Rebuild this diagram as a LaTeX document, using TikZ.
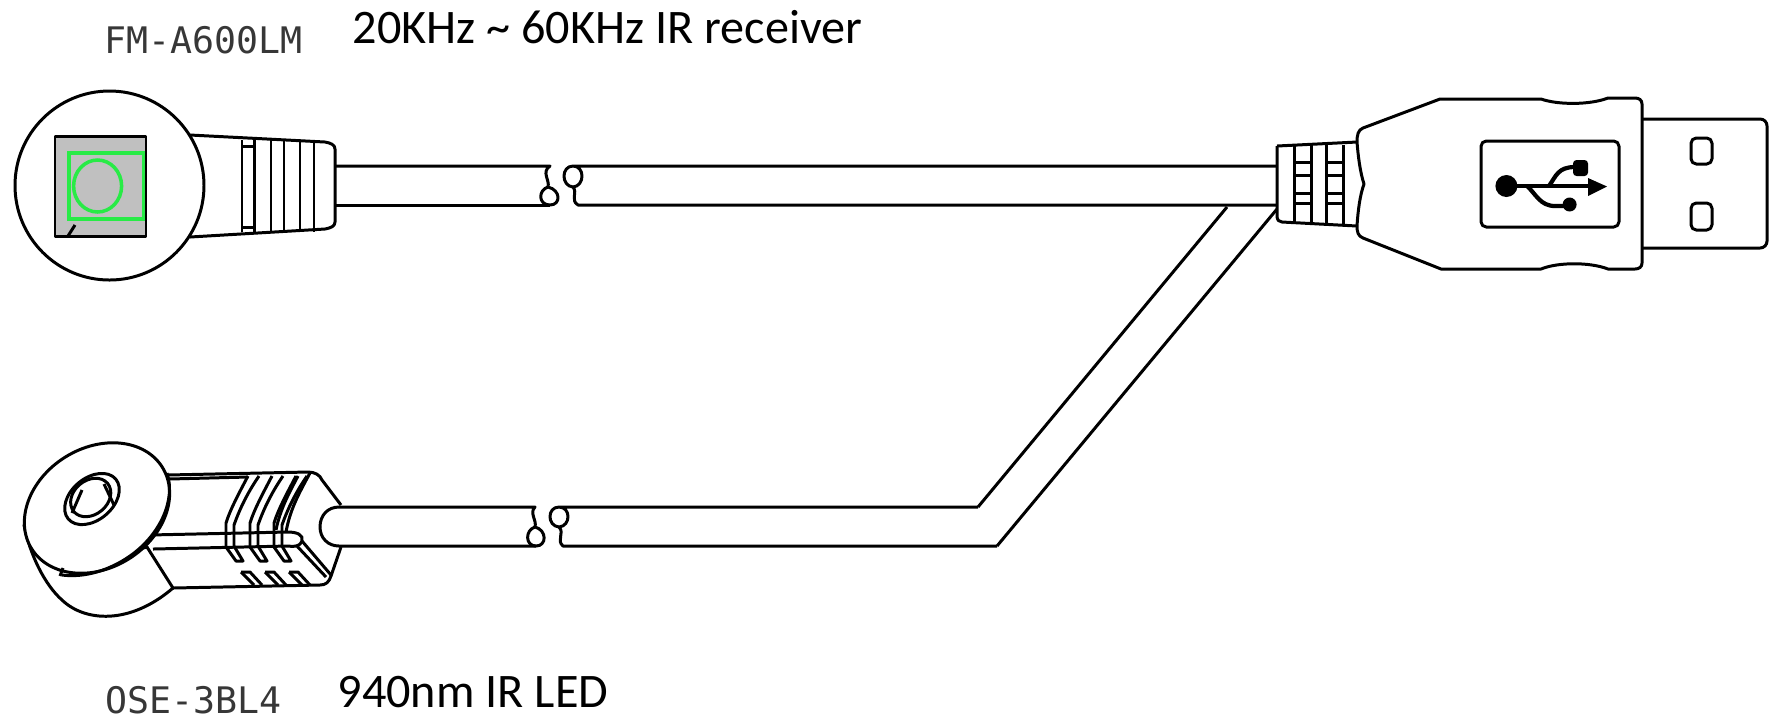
\documentclass[tikz,border=0pt]{standalone}
\usepackage{fontspec}
\setmainfont{Carlito}
\newfontfamily\partfont{DejaVu Sans Mono}
\definecolor{ledgreen}{RGB}{40,235,70}
\definecolor{sensorgray}{RGB}{192,192,192}
\definecolor{partgray}{RGB}{55,55,55}
\tikzset{
  outline/.style={black, line width=0.85pt, line join=round},
  partname/.style={anchor=base west, inner sep=0pt, text=partgray, font=\partfont\fontsize{10.4}{12}\selectfont},
  caption/.style={anchor=base west, inner sep=0pt, font=\fontsize{13.7}{15}\selectfont}
}

\begin{document}
\begin{tikzpicture}[x=0.01cm, y=-0.01cm]

\useasboundingbox (0,0) rectangle (1770,717);

\node[partname] (fmname) at (104,53) {FM-A600LM};
\node[caption] (rxtext) at (352,43) {20KHz \char`~{} 60KHz IR receiver};
\node[partname] (osename) at (105,713) {OSE-3BL4};
\node[caption] (ledtext) at (337,707) {940nm IR LED};

% receiver boot
\draw[outline] (190,135) -- (325,142) .. controls (331,143) and (335,145) .. (335,149) -- (335,222)
  .. controls (335,226) and (331,228) .. (325,229) -- (190,237);
\foreach \ribx in {242,254.5,271,284,300,314}
  \draw[outline] (\ribx,140) -- (\ribx,232);
\draw[outline] (242,146) -- (254.5,146);
\draw[outline] (242,227) -- (254.5,227);

% receiver face
\draw[outline, fill=white] (109.5,185.5) circle (94.5);
\draw[outline, fill=sensorgray] (55,136) rectangle (146,236);
\draw[outline] (68,236) -- (75,225);
\draw[ledgreen, line width=1pt] (69,153) rectangle (143.5,219);
\draw[ledgreen, line width=1pt] (97.6,186) ellipse (24 and 26);

% upper cable
\draw[outline] (335,166) -- (550,166) .. controls (541,172) and (550,180) .. (548,187)
  .. controls (538,190) and (538,205) .. (550,205) .. controls (561,205) and (561,190) .. (548,187);
\draw[outline] (335,205) -- (550,205);
\draw[outline] (573,166) .. controls (561,166) and (561,186) .. (573,187)
  .. controls (585,186) and (585,166) .. (573,166) -- (1277,166);
\draw[outline] (573,187) .. controls (578,193) and (570,200) .. (578,205) -- (1277,205);
\draw[outline] (1227,207) -- (978,507);
\draw[outline] (1277,209) -- (997,546);

% lower cable
\draw[outline] (320,527) .. controls (320,515) and (328,507) .. (339,507) -- (535,507)
  .. controls (529,513) and (537,520) .. (535,527) .. controls (525,530) and (525,546) .. (536,546)
  .. controls (547,546) and (547,530) .. (535,527);
\draw[outline] (320,527) .. controls (320,538) and (328,546) .. (339,546) -- (536,546);
\draw[outline] (559,507) .. controls (547,507) and (547,526) .. (559,527)
  .. controls (571,526) and (571,507) .. (559,507) -- (978,507);
\draw[outline] (559,527) .. controls (565,533) and (556,540) .. (563,546) -- (997,546);

% LED boot
\draw[outline] (167,475) -- (308,472) .. controls (315,472) and (320,475) .. (322,480) -- (341,505);
\draw[outline] (169,479) -- (248,477);
\draw[outline] (341,547) -- (331,576) .. controls (329,582) and (326,585) .. (320,585) -- (173,588);
\draw[outline] (149,535) -- (288,532) .. controls (297,532) and (304,535) .. (302,541) .. controls (300,546) and (296,547) .. (288,546) -- (153,549);
\draw[outline] (296,545) -- (326,577);
\draw[outline] (302,541) -- (331,575);
\foreach \ribx in {0,24,48}{
  \draw[outline] (248+\ribx,476) .. controls (238+\ribx,495) and (230+\ribx,510) .. (226+\ribx,523) -- (226+\ribx,547) -- (236+\ribx,561) -- (243+\ribx,561) -- (234+\ribx,546) -- (234+\ribx,525) .. controls (240+\ribx,508) and (248+\ribx,492) .. (259+\ribx,476);
  \draw[outline] (241+\ribx,572) -- (250+\ribx,572) -- (262+\ribx,585);
  \draw[outline] (241+\ribx,572) -- (254+\ribx,585);
}
\draw[outline] (298,476) .. controls (288,495) and (280,510) .. (276,530);
\draw[outline] (310,473) .. controls (298,495) and (290,510) .. (286,532);

% LED face
\draw[outline, fill=white] (24,525) .. controls (30,555) and (45,585) .. (62,600) .. controls (85,622) and (130,625) .. (173,588) -- (147,547) -- (60,570) -- cycle;
\draw[outline, fill=white, rotate around={32:(97,508)}] (97,508) ellipse (77 and 60);
\draw[outline] (167,473) .. controls (176,500) and (160,535) .. (130,556) .. controls (110,570) and (85,578) .. (62,575);
\draw[outline] (63,568) -- (60,576);
\draw[outline, rotate around={40:(92,499)}] (92,499) ellipse (31 and 21);
\draw[outline, rotate around={40:(92,499)}] (92,497) ellipse (22 and 17);
\draw[outline] (72,513) -- (82,490);
\draw[outline] (104,484) -- (114,505);

% USB strain relief
\draw[outline] (1277,146) -- (1357,142);
\draw[outline] (1277,146) -- (1277,216) .. controls (1277,220) and (1279,222) .. (1282,222) -- (1357,226);
\foreach \ribx in {1294,1311,1326,1343}
  \draw[outline] (\ribx,145) -- (\ribx,224);
\foreach \riby in {162,175,193,203}{
  \draw[outline] (1294,\riby) -- (1311,\riby);
  \draw[outline] (1326,\riby) -- (1343,\riby);
}

% USB body
\draw[outline] (1357,142) .. controls (1357,135) and (1358,130) .. (1363,128) -- (1440,99) -- (1541,99)
  .. controls (1558,105) and (1590,105) .. (1608,98) -- (1635,98) .. controls (1639,98) and (1642,100) .. (1642,104)
  -- (1642,263) .. controls (1642,267) and (1639,269) .. (1635,269) -- (1608,269)
  .. controls (1590,262) and (1558,262) .. (1541,269) -- (1441,269) -- (1363,238)
  .. controls (1358,236) and (1357,232) .. (1357,226) .. controls (1358,210) and (1360,195) .. (1364,184)
  .. controls (1360,172) and (1358,155) .. (1357,142) -- cycle;

% USB plug
\draw[outline] (1642,119) -- (1760,119) .. controls (1764,119) and (1767,122) .. (1767,126) -- (1767,241)
  .. controls (1767,245) and (1764,248) .. (1760,248) -- (1642,248);
\draw[outline, rounded corners=1.5pt] (1691,138) rectangle (1712,164);
\draw[outline, rounded corners=1.5pt] (1691,203) rectangle (1712,230);

% USB logo
\draw[outline, rounded corners=1.5pt] (1481,141) rectangle (1619,227);
\fill[black] (1506.4,186) circle (11);
\draw[black, line width=1.2pt] (1506.4,186) -- (1592,186);
\fill[black] (1588,178) -- (1607,186.5) -- (1588,196) -- cycle;
\draw[black, line width=1.2pt] (1549,186) .. controls (1556,176) and (1558,167) .. (1575,167);
\fill[black, rounded corners=1pt] (1573,160) rectangle (1588,176);
\draw[black, line width=1.2pt] (1527,186) .. controls (1536,194) and (1540,206) .. (1555,206) -- (1568,206);
\fill[black] (1569.6,204.5) circle (7);

\end{tikzpicture}
\end{document}
